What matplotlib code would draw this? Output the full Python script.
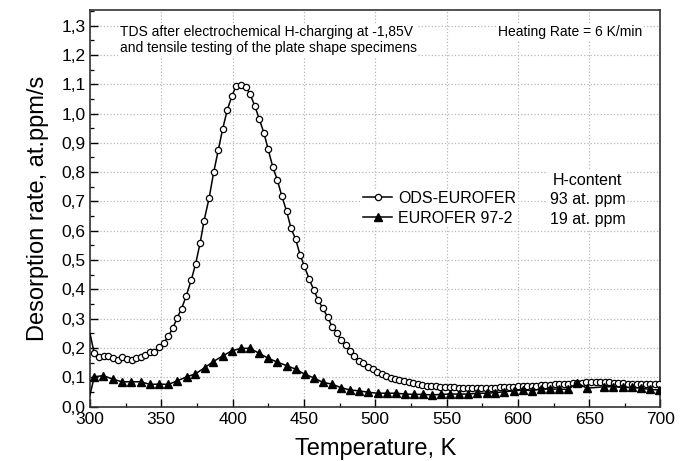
import matplotlib
matplotlib.use("Agg")
import matplotlib.pyplot as plt
from matplotlib.ticker import MultipleLocator, FuncFormatter

plt.rcParams["font.family"] = ["Liberation Sans", "DejaVu Sans"]

# ODS-EUROFER (open circles)
ods_temp = [300.0, 303.0, 306.5, 309.7, 312.7, 315.9, 319.4, 322.7, 326.0, 329.2, 332.5,
            335.6, 338.9, 342.0, 345.2, 348.3, 351.8, 354.8, 358.1, 361.1, 364.2,
            367.4, 371.0, 374.0, 377.3, 380.0, 383.5, 386.7, 390.0, 393.0, 396.3,
            399.4, 402.4, 405.7, 409.2, 412.2, 415.5, 418.7, 422.0, 424.8, 428.1,
            431.4, 434.6, 437.9, 441.0, 444.2, 447.3, 450.3, 453.8, 456.9, 460.1,
            463.2, 466.7, 469.7, 473.0, 476.0, 479.3, 482.3, 485.3, 488.6, 491.6,
            495.1, 498.2, 501.4, 504.5, 507.6, 510.8, 513.9, 516.9, 520.4, 523.5,
            526.7, 529.8, 533.0, 536.1, 539.3, 542.5, 545.7, 548.9, 552.1, 555.3,
            558.5, 561.7, 564.9, 568.1, 571.3, 574.5, 577.7, 580.9, 584.1, 587.3,
            590.5, 593.7, 596.9, 600.1, 603.3, 606.5, 609.7, 612.9, 616.1, 619.3,
            622.5, 625.7, 628.9, 632.1, 635.3, 638.5, 641.7, 644.9, 648.1, 651.3,
            654.5, 657.7, 660.9, 664.1, 667.3, 670.5, 673.7, 676.9, 680.1, 683.3,
            686.5, 689.7, 692.9, 696.1, 699.3]
ods_rate = [0.250, 0.182, 0.171, 0.173, 0.173, 0.165, 0.160, 0.169, 0.162, 0.158, 0.165,
            0.169, 0.176, 0.185, 0.188, 0.205, 0.217, 0.240, 0.268, 0.303, 0.334,
            0.377, 0.432, 0.486, 0.560, 0.635, 0.711, 0.799, 0.876, 0.947, 1.013,
            1.058, 1.094, 1.098, 1.092, 1.066, 1.027, 0.981, 0.933, 0.880, 0.819,
            0.772, 0.717, 0.666, 0.608, 0.571, 0.518, 0.479, 0.434, 0.398, 0.363,
            0.336, 0.305, 0.273, 0.253, 0.227, 0.209, 0.190, 0.173, 0.157, 0.148,
            0.137, 0.128, 0.118, 0.112, 0.105, 0.099, 0.096, 0.091, 0.088, 0.084,
            0.080, 0.077, 0.074, 0.071, 0.070, 0.069, 0.068, 0.067, 0.066, 0.066,
            0.065, 0.065, 0.064, 0.064, 0.064, 0.064, 0.065, 0.065, 0.065, 0.066,
            0.066, 0.067, 0.068, 0.069, 0.070, 0.071, 0.071, 0.072, 0.073, 0.074,
            0.075, 0.076, 0.077, 0.078, 0.079, 0.080, 0.081, 0.082, 0.083, 0.083,
            0.084, 0.084, 0.084, 0.083, 0.082, 0.081, 0.080, 0.079, 0.079, 0.079,
            0.078, 0.078, 0.078, 0.078, 0.079]

# EUROFER 97-2 (filled triangles)
eur_temp = [300.0, 303.0, 309.3, 315.9, 322.4, 329.0, 335.5, 342.1, 348.4, 354.9, 361.2,
            367.8, 373.9, 380.4, 386.5, 393.0, 399.6, 406.1, 412.2, 418.7, 425.0,
            431.4, 437.9, 444.2, 450.5, 457.1, 463.2, 469.7, 476.0, 482.3, 488.9,
            495.2, 501.7, 508.1, 514.6, 520.9, 527.2, 533.3, 539.8, 546.1, 552.5,
            559.0, 565.3, 571.4, 578.2, 584.2, 590.5, 597.1, 603.4, 609.7, 616.3,
            622.6, 628.9, 635.4, 641.7, 648.3, 660.6, 667.0, 673.5, 679.9, 686.4,
            692.7, 699.2]
eur_rate = [0.040, 0.102, 0.106, 0.094, 0.085, 0.085, 0.085, 0.076, 0.077, 0.076, 0.088,
            0.102, 0.112, 0.133, 0.154, 0.173, 0.191, 0.199, 0.199, 0.182, 0.165,
            0.152, 0.140, 0.128, 0.111, 0.098, 0.083, 0.077, 0.065, 0.057, 0.054,
            0.049, 0.046, 0.046, 0.046, 0.043, 0.042, 0.042, 0.040, 0.042, 0.043,
            0.043, 0.043, 0.046, 0.046, 0.048, 0.051, 0.054, 0.057, 0.055, 0.060,
            0.060, 0.060, 0.059, 0.082, 0.063, 0.068, 0.068, 0.066, 0.066, 0.063,
            0.059, 0.057]

fig = plt.figure(figsize=(6.88, 4.61), dpi=100)
ax = fig.add_axes([0.1308, 0.1178, 0.8292, 0.8605])

ax.plot(ods_temp, ods_rate, "-", color="black", lw=1.1, marker="o", ms=4.5,
        mfc="white", mec="black", mew=0.9, markevery=slice(1, None),
        label="ODS-EUROFER", zorder=3)
ax.plot(eur_temp, eur_rate, "-", color="black", lw=1.1, marker="^", ms=5.8,
        mfc="black", mec="black", markevery=slice(1, None),
        label="EUROFER 97-2", zorder=3)

ax.set_xlim(300, 700)
ax.set_ylim(0, 1.353)
ax.xaxis.set_major_locator(MultipleLocator(50))
ax.xaxis.set_minor_locator(MultipleLocator(25))
ax.yaxis.set_major_locator(MultipleLocator(0.1))
ax.yaxis.set_minor_locator(MultipleLocator(0.05))
ax.yaxis.set_major_formatter(FuncFormatter(lambda v, p: f"{v:.1f}".replace(".", ",")))
ax.tick_params(which="both", direction="in", top=False, right=False)
ax.tick_params(which="major", length=6, width=1.0, labelsize=12.5, pad=3)
ax.tick_params(which="minor", length=3, width=0.9)
ax.tick_params(axis="x", pad=4)
ax.grid(True, which="major", ls=":", color="#b8b8b8", lw=0.9)
for s in ax.spines.values():
    s.set_linewidth(1.2)
    s.set_color("#333333")

ax.set_xlabel("Temperature, K", fontsize=17, labelpad=8)
ax.set_ylabel("Desorption rate, at.ppm/s", fontsize=17, labelpad=9)

box = dict(facecolor="white", edgecolor="none", pad=1)
ax.text(0.052, 0.962, "TDS after electrochemical H-charging at -1,85V\n"
        "and tensile testing of the plate shape specimens",
        transform=ax.transAxes, fontsize=10, va="top", ha="left",
        linespacing=1.2, bbox=box, zorder=4)
ax.text(0.968, 0.962, "Heating Rate = 6 K/min", transform=ax.transAxes,
        fontsize=10, va="top", ha="right", bbox=box, zorder=4)
ax.text(0.872, 0.59, "H-content\n93 at. ppm\n19 at. ppm", transform=ax.transAxes,
        fontsize=11.5, va="top", ha="center", linespacing=1.4, bbox=box, zorder=4)

leg = ax.legend(loc="upper left", bbox_to_anchor=(0.462, 0.568), fontsize=11.5,
                frameon=True, framealpha=1, edgecolor="none", borderpad=0.1,
                handlelength=1.8, handletextpad=0.4, labelspacing=0.3)
leg.set_zorder(4)

fig.savefig("out.png", dpi=100)
